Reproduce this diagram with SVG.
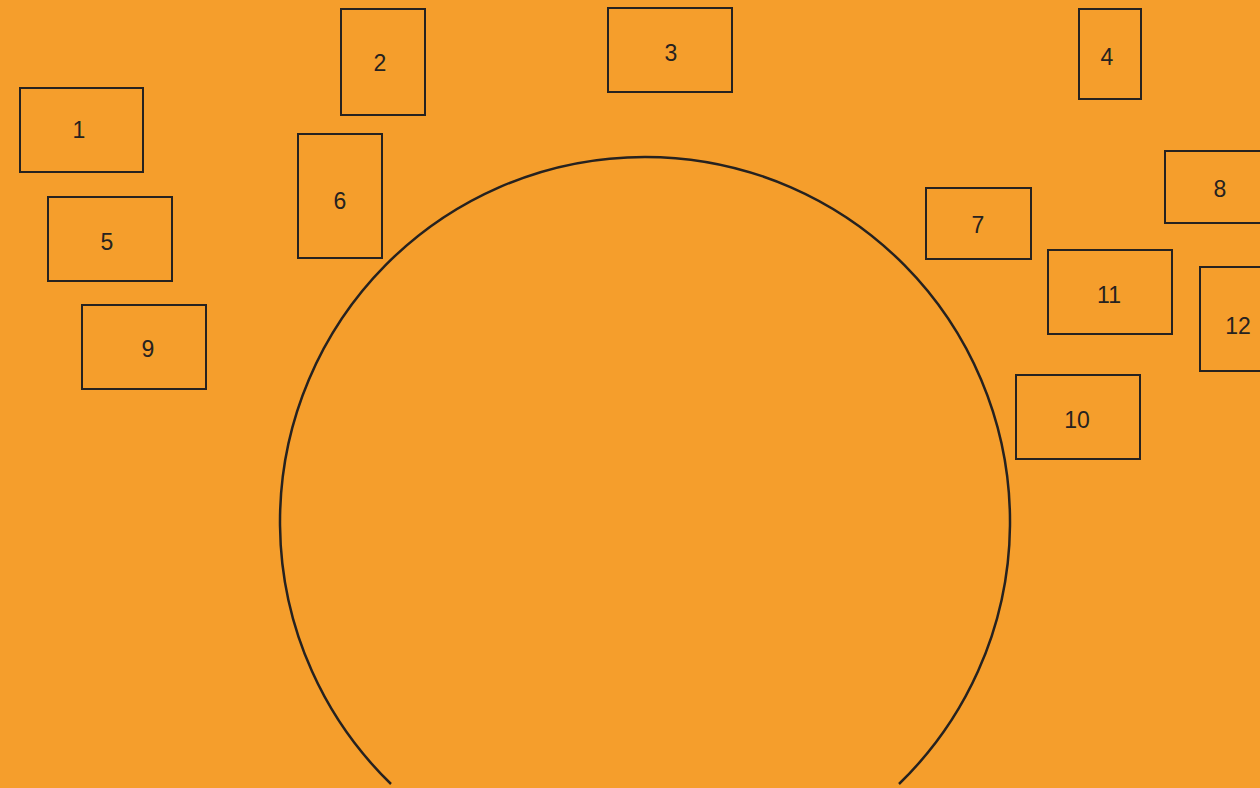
<svg xmlns="http://www.w3.org/2000/svg" width="1260" height="788" viewBox="0 0 1260 788">
<style>
.box{fill:none;stroke:#262220;stroke-width:2}
.lbl{font-family:"Liberation Sans",Arial,sans-serif;font-size:23px;fill:#262220;text-anchor:middle}
.arc{fill:none;stroke:#262220;stroke-width:2.5}
</style>
<rect width="1260" height="788" fill="#F59E2C"/>
<g id="connectors">
<path class="arc" d="M 391 784 A 365 365 0 1 1 899 784"/>
</g>
<g id="n1"><rect class="box" x="20" y="88" width="123" height="84"/><text class="lbl" x="79" y="138">1</text></g>
<g id="n2"><rect class="box" x="341" y="9" width="84" height="106"/><text class="lbl" x="380" y="71">2</text></g>
<g id="n3"><rect class="box" x="608" y="8" width="124" height="84"/><text class="lbl" x="671" y="61">3</text></g>
<g id="n4"><rect class="box" x="1079" y="9" width="62" height="90"/><text class="lbl" x="1107" y="65">4</text></g>
<g id="n5"><rect class="box" x="48" y="197" width="124" height="84"/><text class="lbl" x="107" y="250">5</text></g>
<g id="n6"><rect class="box" x="298" y="134" width="84" height="124"/><text class="lbl" x="340" y="209">6</text></g>
<g id="n7"><rect class="box" x="926" y="188" width="105" height="71"/><text class="lbl" x="978" y="233">7</text></g>
<g id="n8"><rect class="box" x="1165" y="151" width="100" height="72"/><text class="lbl" x="1220" y="197">8</text></g>
<g id="n9"><rect class="box" x="82" y="305" width="124" height="84"/><text class="lbl" x="148" y="357">9</text></g>
<g id="n10"><rect class="box" x="1016" y="375" width="124" height="84"/><text class="lbl" x="1077" y="428">10</text></g>
<g id="n11"><rect class="box" x="1048" y="250" width="124" height="84"/><text class="lbl" x="1109" y="303">11</text></g>
<g id="n12"><rect class="box" x="1200" y="267" width="70" height="104"/><text class="lbl" x="1238" y="334">12</text></g>
</svg>
